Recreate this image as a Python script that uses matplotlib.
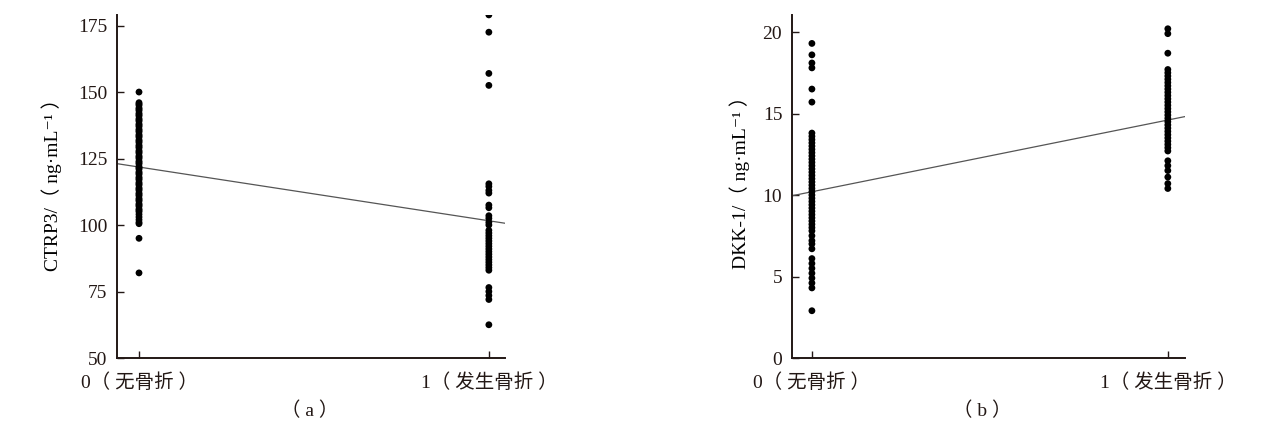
import numpy as np
import matplotlib
matplotlib.use('Agg')
import matplotlib.pyplot as plt

plt.rcParams['font.family'] = ['Liberation Serif', 'Noto Sans CJK SC', 'DejaVu Sans']

# Group labels
group_labels = ['0（ 无骨折 ）', '1（ 发生骨折 ）']

# CTRP3 (ng/mL), group 0 = no fracture, group 1 = fracture
ctrp3_g0 = [150, 146, 145.5, 145, 144, 143.5, 143, 142, 141.5, 141, 140, 139.5, 139,
            138, 137.5, 137, 136, 135.5, 135, 134, 133.5, 133, 132, 131.5, 131, 130,
            129.5, 129, 128, 127.5, 127, 126, 125.5, 125, 124, 123.5, 123, 122, 121.5,
            121, 120, 119.5, 119, 118, 117.5, 117, 116, 115.5, 115, 114, 113.5, 113,
            112, 111.5, 111, 110, 109.5, 109, 108, 107.5, 107, 106, 105.5, 105, 104,
            103, 102, 101, 100.5, 95, 82]
ctrp3_g1 = [179, 172.5, 157, 152.5, 115.5, 114.5, 113, 112, 107.5, 106.5, 103.5, 102.5,
            101, 100, 98, 97, 96, 95, 94, 93, 92, 91, 90, 89, 88, 87, 86, 85, 84, 83,
            76.5, 75, 73.5, 72, 62.5]
# fitted line: value at group 0 and at group 1
ctrp3_fit = [121.8, 101.6]

# DKK-1 (ng/mL)
dkk1_g0 = [19.3, 18.6, 18.1, 17.8, 16.5, 15.7, 13.8, 13.6, 13.4, 13.2, 13.0, 12.8,
           12.6, 12.4, 12.2, 12.0, 11.8, 11.6, 11.4, 11.2, 11.0, 10.8, 10.6, 10.4,
           10.2, 10.0, 9.8, 9.6, 9.4, 9.2, 9.0, 8.8, 8.6, 8.4, 8.2, 8.0, 7.8, 7.5,
           7.2, 7.0, 6.7, 6.1, 5.8, 5.5, 5.2, 4.9, 4.6, 4.3, 2.9]
dkk1_g1 = [20.2, 19.9, 18.7, 17.7, 17.5, 17.3, 17.1, 16.9, 16.7, 16.5, 16.3, 16.1,
           15.9, 15.7, 15.5, 15.3, 15.1, 14.9, 14.7, 14.5, 14.3, 14.1, 13.9, 13.7,
           13.5, 13.3, 13.1, 12.9, 12.7, 12.1, 11.8, 11.5, 11.1, 10.7, 10.4]
dkk1_fit = [10.2, 14.6]

ctrp3_ticks = [50, 75, 100, 125, 150, 175]
dkk1_ticks = [0, 5, 10, 15, 20]

axis_color = '#231815'
fs = 14

fig = plt.figure(figsize=(12.7, 4.41), dpi=100)
ax1 = fig.add_axes([0.0921, 0.1882, 0.3055, 0.778])
ax2 = fig.add_axes([0.6236, 0.1882, 0.3094, 0.778])


def draw_panel(ax, g0, g1, fit, ticks, ylim, xlim, ylabel, label_xy):
    ax.scatter(np.zeros(len(g0)), g0, s=24, color='black', edgecolors='none', zorder=3)
    ax.scatter(np.ones(len(g1)), g1, s=24, color='black', edgecolors='none', zorder=3)
    ax.axline((0, fit[0]), (1, fit[1]), color='#555555', lw=0.9, zorder=2)
    ax.set_xlim(*xlim)
    ax.set_ylim(*ylim)
    ax.set_xticks([0, 1])
    ax.set_xticklabels(group_labels, fontsize=fs)
    ax.set_yticks(ticks)
    ax.set_yticklabels([str(t) for t in ticks], fontsize=fs)
    ax.set_ylabel(ylabel, fontsize=fs, va='center')
    ax.yaxis.set_label_coords(*label_xy)
    for s in ['top', 'right']:
        ax.spines[s].set_visible(False)
    for s in ['left', 'bottom']:
        ax.spines[s].set_color(axis_color)
        ax.spines[s].set_linewidth(1.4)
    ax.tick_params(direction='in', length=5, width=1.0, color=axis_color,
                   labelcolor=axis_color)
    ax.tick_params(axis='y', pad=7)
    ax.tick_params(axis='x', pad=11)


draw_panel(ax1, ctrp3_g0, ctrp3_g1, ctrp3_fit, ctrp3_ticks, (50, 179), (-0.063, 1.046),
           'CTRP3/（ ng·mL⁻¹ ）', (-0.168, 0.52))
draw_panel(ax2, dkk1_g0, dkk1_g1, dkk1_fit, dkk1_ticks, (0, 21.05), (-0.056, 1.048),
           'DKK-1/（ ng·mL⁻¹ ）', (-0.132, 0.525))

fig.text(310 / 1270, 1 - 411 / 441, '（ a ）', ha='center', va='center', fontsize=fs,
         color=axis_color)
fig.text(982 / 1270, 1 - 411 / 441, '（ b ）', ha='center', va='center', fontsize=fs,
         color=axis_color)

fig.savefig('out.png', dpi=100)
